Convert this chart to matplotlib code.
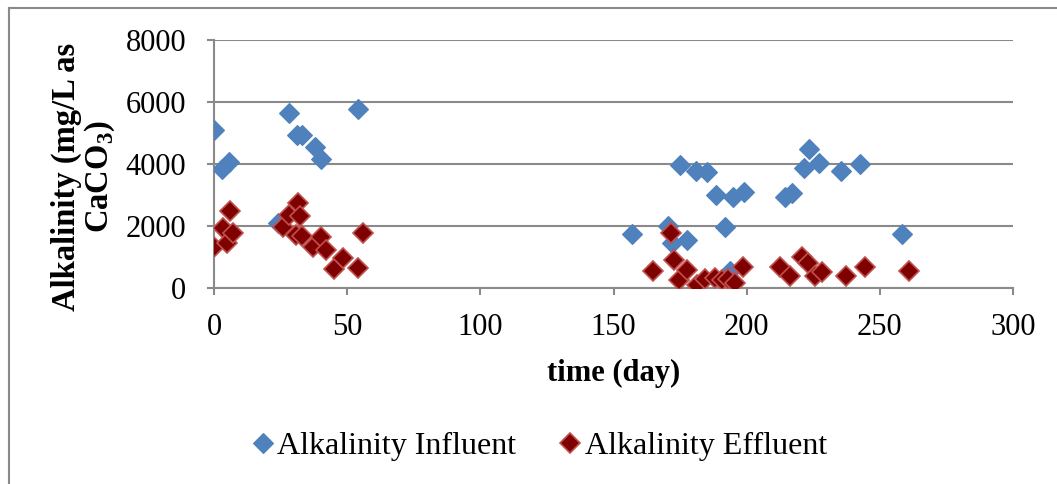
import matplotlib
matplotlib.use("Agg")
import matplotlib.pyplot as plt
from matplotlib.lines import Line2D

# Alkalinity measurements over the operating period
influent_day = [0, 3, 5.5, 24, 28, 31, 33, 38, 40, 54,
                157, 170.5, 172, 177.5, 175, 181, 185, 188.5, 192, 193.8,
                195, 199, 214.5, 217, 221.5, 223.5, 227, 235.5, 242.5, 258.5]
influent_alk = [5100, 3850, 4050, 2100, 5650, 4950, 4950, 4550, 4170, 5780,
                1740, 2000, 1450, 1550, 3970, 3780, 3750, 3000, 1980, 550,
                2950, 3100, 2930, 3050, 3860, 4500, 4040, 3780, 3990, 1730]

effluent_day = [0, 3.5, 4.8, 6, 7, 26, 28, 30.8, 31.7, 32.3,
                33, 37.3, 40, 42, 45, 48.6, 54, 56,
                164.7, 171.5, 172.7, 174.6, 177.5, 181.2, 184.4, 188.1, 190.6, 193.1,
                195.6, 198.5, 212.5, 216.3, 220.7, 223.2, 225.8, 228.3, 237.3, 244.5, 261.1]
effluent_alk = [1330, 1950, 1450, 2500, 1770, 1980, 2350, 1710, 2750, 2320,
                1680, 1330, 1650, 1230, 600, 960, 630, 1780,
                560, 1760, 900, 260, 580, 100, 280, 310, 260, 280,
                150, 690, 690, 380, 1010, 820, 400, 510, 390, 690, 550]

x_ticks = [0, 50, 100, 150, 200, 250, 300]
y_ticks = [0, 2000, 4000, 6000, 8000]

plt.rcParams["font.family"] = ["Liberation Serif", "DejaVu Serif"]
plt.rcParams["mathtext.fontset"] = "custom"
plt.rcParams["mathtext.rm"] = "Liberation Serif"
plt.rcParams["mathtext.bf"] = "Liberation Serif:bold"

GRAY = "#8a8a8a"
BLUE = "#4f81bd"
DRED = "#7f0000"
RED_EDGE = "#c0504d"
FS = 22

fig = plt.figure(figsize=(10.57, 4.84), dpi=100)
ax = fig.add_axes([214 / 1057, 1 - 288 / 484, (1013 - 214) / 1057, (288 - 40) / 484])

ax.plot(influent_day, influent_alk, linestyle="none", marker="D", markersize=9.8,
        markerfacecolor=BLUE, markeredgecolor=BLUE, markeredgewidth=0.8,
        label="Alkalinity Influent", zorder=3)
ax.plot(effluent_day, effluent_alk, linestyle="none", marker="D", markersize=9.8,
        markerfacecolor=DRED, markeredgecolor=RED_EDGE, markeredgewidth=1.2,
        label="Alkalinity Effluent", zorder=4)

ax.set_xlim(0, 300)
ax.set_ylim(0, 8000)
ax.set_xticks(x_ticks)
ax.set_yticks(y_ticks)
ax.tick_params(axis="both", labelsize=FS, colors=GRAY, labelcolor="black",
               width=1.5, length=5, direction="out")
ax.tick_params(axis="x", pad=13)
ax.tick_params(axis="y", pad=15)

ax.grid(axis="y", color=GRAY, linewidth=1.5)
ax.set_axisbelow(True)
for side in ("top", "right"):
    ax.spines[side].set_visible(False)
for side in ("left", "bottom"):
    ax.spines[side].set_color(GRAY)
    ax.spines[side].set_linewidth(1.5)

ax.set_xlabel("time (day)", fontsize=FS, fontweight="bold", labelpad=12)
fig.text(84 / 1057, 1 - 177 / 484, "Alkalinity (mg/L as\nCaCO$_{\\mathbf{3}}$)",
         rotation=90, ha="center", va="center", ma="center",
         fontsize=23.5, fontweight="bold", linespacing=1.05)

fig.legend(loc="center", bbox_to_anchor=(540 / 1057, 1 - 446 / 484), ncol=2,
           frameon=False, fontsize=23, handlelength=0.6, handletextpad=0.15,
           columnspacing=1.4, markerscale=1.0)

# chart area frame
fig.add_artist(Line2D([9 / 1057, 1.0], [1 - 8 / 484, 1 - 8 / 484],
                      color=GRAY, linewidth=1.5, transform=fig.transFigure))
fig.add_artist(Line2D([9 / 1057, 9 / 1057], [0.0, 1 - 8 / 484],
                      color=GRAY, linewidth=1.5, transform=fig.transFigure))

fig.savefig("out.png", dpi=100)
